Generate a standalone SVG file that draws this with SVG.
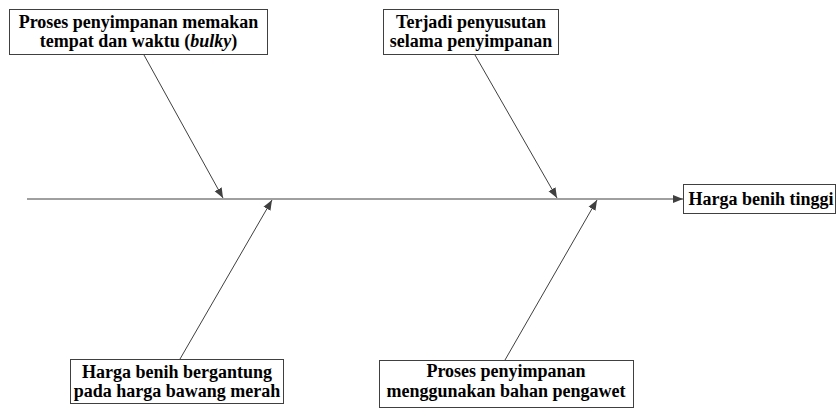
<svg xmlns="http://www.w3.org/2000/svg" width="837" height="410" viewBox="0 0 837 410">
  <style>
    .box { fill: #ffffff; stroke: #404040; stroke-width: 1; }
    .edge { stroke: #404040; stroke-width: 1; fill: none; marker-end: url(#arrow); }
  </style>
  <defs>
    <marker id="arrow" viewBox="0 0 10 10" refX="10" refY="5" markerWidth="10" markerHeight="10" markerUnits="userSpaceOnUse" orient="auto">
      <path d="M0,1 L10,5 L0,9 Z" fill="#404040"/>
    </marker>
  </defs>

  <!-- connectors: spine and four causes -->
  <g id="connectors">
    <line class="edge" x1="27" y1="199" x2="683" y2="199"/>
    <line class="edge" x1="144" y1="55" x2="223" y2="198"/>
    <line class="edge" x1="475" y1="55" x2="557" y2="198"/>
    <line class="edge" x1="180" y1="359" x2="272" y2="200"/>
    <line class="edge" x1="505" y1="360" x2="597" y2="200"/>
  </g>

  <g id="cause-bulky">
    <rect class="box" x="9.5" y="9.5" width="258" height="45"/>
    <text x="138.5" y="27.5" font-family="Liberation Serif" font-weight="bold" font-size="18" text-anchor="middle">Proses penyimpanan memakan</text>
    <text x="138.5" y="47" font-family="Liberation Serif" font-weight="bold" font-size="18" text-anchor="middle">tempat dan waktu (<tspan font-style="italic">bulky</tspan>)</text>
  </g>

  <g id="cause-penyusutan">
    <rect class="box" x="383.5" y="9.5" width="175" height="45"/>
    <text x="471" y="27.5" font-family="Liberation Serif" font-weight="bold" font-size="18" text-anchor="middle">Terjadi penyusutan</text>
    <text x="471" y="47" font-family="Liberation Serif" font-weight="bold" font-size="18" text-anchor="middle">selama penyimpanan</text>
  </g>

  <g id="cause-bawang">
    <rect class="box" x="70.5" y="359.5" width="213" height="44"/>
    <text x="177" y="377.5" font-family="Liberation Serif" font-weight="bold" font-size="18" text-anchor="middle">Harga benih bergantung</text>
    <text x="177" y="397" font-family="Liberation Serif" font-weight="bold" font-size="18" text-anchor="middle">pada harga bawang merah</text>
  </g>

  <g id="cause-pengawet">
    <rect class="box" x="379.5" y="360.5" width="254" height="47"/>
    <text x="506" y="377" font-family="Liberation Serif" font-weight="bold" font-size="18" text-anchor="middle">Proses penyimpanan</text>
    <text x="506" y="397" font-family="Liberation Serif" font-weight="bold" font-size="18" text-anchor="middle">menggunakan bahan pengawet</text>
  </g>

  <g id="effect">
    <rect class="box" x="683.5" y="184.5" width="152" height="29"/>
    <text x="761" y="205" font-family="Liberation Serif" font-weight="bold" font-size="18" text-anchor="middle">Harga benih tinggi</text>
  </g>
</svg>
